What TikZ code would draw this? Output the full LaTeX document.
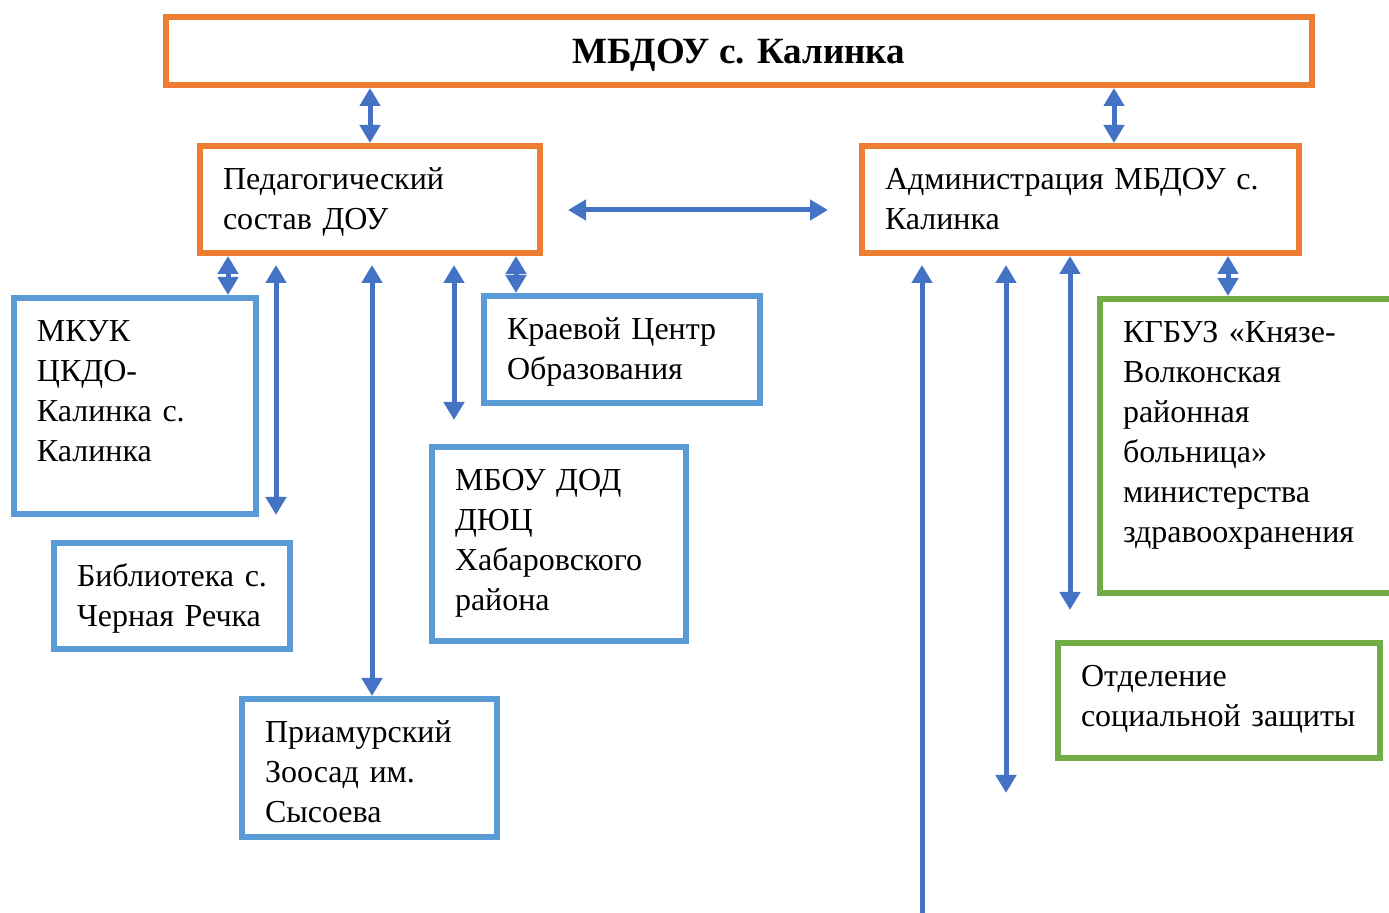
\documentclass[tikz,border=0pt]{standalone}
\usepackage{fontspec}
\setmainfont{Liberation Serif}
\usetikzlibrary{arrows.meta}
\definecolor{boxorange}{HTML}{ED7D31}
\definecolor{boxblue}{HTML}{5B9BD5}
\definecolor{boxgreen}{HTML}{70AD47}
\definecolor{linkblue}{HTML}{4472C4}

\begin{document}
\begin{tikzpicture}
    [x=0.5pt, y=-0.5pt,
     every node/.style={font=\fontsize{16}{20}\selectfont},
     unit/.style={draw, line width=3pt, anchor=north west, align=left,
                  inner xsep=11.5pt, inner ysep=9pt, text height=12.75pt},
     orgbox/.style={unit, draw=boxorange},
     partner/.style={unit, draw=boxblue},
     health/.style={unit, draw=boxgreen},
     link/.style={draw=linkblue, line width=2.5pt,
                  {Triangle[width=10pt,length=9pt]}-{Triangle[width=10pt,length=9pt]}},
     uplink/.style={draw=linkblue, line width=2.5pt, {Triangle[width=10pt,length=9pt]}-}]

    \useasboundingbox (0,0) rectangle (1389,913);

    \node[orgbox, anchor=center, minimum width=573pt, minimum height=34pt, inner sep=0pt,
          text height=16pt, text depth=3.5pt,
          font=\fontsize{18.5}{20}\selectfont\bfseries] (dou) at (739,51) {МБДОУ с. Калинка};
    \node[orgbox, text width=147pt, text depth=22.75pt] (staff) at (197,143) {Педагогический\\ состав ДОУ};
    \node[orgbox, text width=195.5pt, text depth=22.75pt] (admin) at (859,143) {Администрация МБДОУ~с.\\ Калинка};

    % partners of the staff
    \node[partner, text width=98pt, text depth=77.25pt] (mkuk) at (11,295) {МКУК\\ ЦКДО-\\ Калинка с.\\ Калинка};
    \node[partner, text width=95pt, text depth=22.25pt] (lib) at (51,540) {Библиотека~с.\\ Черная Речка};
    \node[partner, text width=104.5pt, text depth=38.25pt] (zoo) at (239,696) {Приамурский\\ Зоосад им.\\ Сысоева};
    \node[partner, text width=115pt, text depth=22.75pt] (kraev) at (481,293) {Краевой Центр\\ Образования};
    \node[partner, text width=104pt, text depth=66.25pt] (dod) at (429,444) {МБОУ ДОД\\ ДЮЦ\\ Хабаровского\\ района};

    % partners of the administration
    \node[health, text width=137pt, text depth=116.25pt] (kgb) at (1097,296) {КГБУЗ «Князе-\\ Волконская\\ районная\\ больница»\\ министерства\\ здравоохранения};
    \node[health, text width=138pt, text depth=26.75pt] (soc) at (1055,640) {Отделение\\ социальной~защиты};

    % links from the top
    \draw[link] (staff.north) -- (staff.north |- dou.south);
    \coordinate (adminTop) at (1114,0);
    \draw[link] (adminTop |- admin.north) -- (adminTop |- dou.south);
    \coordinate (midL) at (568,210);
    \coordinate (midR) at (828,210);
    \draw[link] (midL) -- (midR);

    % links of the staff
    \coordinate (toMkuk) at (228,0);
    \draw[link] (toMkuk |- staff.south) -- (toMkuk |- mkuk.north);
    \coordinate (libTop) at (276,265);
    \coordinate (libEnd) at (276,515);
    \draw[link] (libTop) -- (libEnd);
    \coordinate (zooTop) at (372,265);
    \draw[link] (zooTop) -- (zooTop |- zoo.north);
    \coordinate (dodTop) at (454,265);
    \coordinate (dodEnd) at (454,420);
    \draw[link] (dodTop) -- (dodEnd);
    \coordinate (toKraev) at (516,0);
    \draw[link] (toKraev |- staff.south) -- (toKraev |- kraev.north);

    % links of the administration
    \coordinate (longTop) at (922,265);
    \coordinate (longEnd) at (922,930);
    \draw[uplink] (longTop) -- (longEnd);
    \coordinate (socTop) at (1006,265);
    \coordinate (socEnd) at (1006,793);
    \draw[link] (socTop) -- (socEnd);
    \coordinate (hospTop) at (1070,0);
    \coordinate (hospEnd) at (1070,610);
    \draw[link] (hospTop |- admin.south) -- (hospEnd);
    \coordinate (toKgb) at (1228,0);
    \draw[link] (toKgb |- admin.south) -- (toKgb |- kgb.north);
\end{tikzpicture}
\end{document}
